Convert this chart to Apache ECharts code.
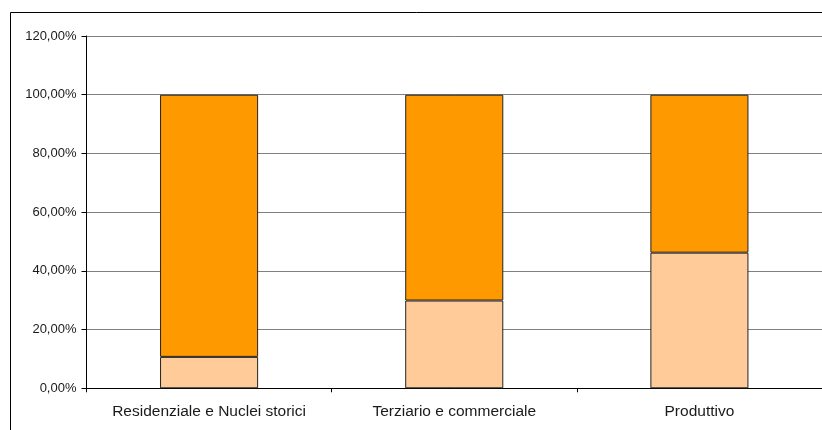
<!DOCTYPE html>
<html><head><meta charset="utf-8">
<script src="https://cdn.jsdelivr.net/npm/echarts@6/dist/echarts.min.js"></script>
<style>html,body{margin:0;padding:0;background:#fff}#c{width:822px;height:430px}</style>
</head><body><div id="c"></div>
<script>
const categories = ['Residenziale e Nuclei storici', 'Terziario e commerciale', 'Produttivo'];
const lowerShare = [10.7, 29.9, 46.2];
const upperShare = [89.3, 70.1, 53.8];
const yTicks = { min: 0, max: 120, interval: 20 };

const chart = echarts.init(document.getElementById('c'), null, { renderer: 'canvas' });
const fmt = v => v.toFixed(2).replace('.', ',') + '%';
chart.setOption({
  animation: false,
  backgroundColor: '#fff',
  textStyle: { fontFamily: 'Liberation Sans, Arial, sans-serif' },
  graphic: [{
    type: 'rect', silent: true, z: -1,
    shape: { x: 10.5, y: 12.5, width: 900, height: 500 },
    style: { fill: 'none', stroke: '#000', lineWidth: 1 }
  }],
  grid: { left: 86.5, top: 36, width: 738, height: 352.3 },
  xAxis: {
    type: 'category', data: categories,
    axisLine: { lineStyle: { color: '#000', width: 1 } },
    axisTick: { show: true, interval: 0, length: 4, lineStyle: { color: '#000' }, alignWithLabel: false },
    axisLabel: { interval: 0, hideOverlap: false, color: '#1a1a1a', fontSize: 15.5, margin: 15, fontFamily: 'Liberation Sans, Arial, sans-serif' },
    splitLine: { show: false }
  },
  yAxis: {
    type: 'value', min: yTicks.min, max: yTicks.max, interval: yTicks.interval,
    axisLine: { show: true, lineStyle: { color: '#000', width: 1 } },
    axisTick: { show: true, length: 5, lineStyle: { color: '#000' } },
    axisLabel: { color: '#1a1a1a', fontSize: 13, margin: 10, formatter: fmt, fontFamily: 'Liberation Sans, Arial, sans-serif' },
    splitLine: { show: true, lineStyle: { color: '#808080', width: 1 } }
  },
  series: [
    { type: 'bar', stack: 's', data: lowerShare, barWidth: '40%',
      itemStyle: { color: '#FFCC99', borderColor: '#222', borderWidth: 1 } },
    { type: 'bar', stack: 's', data: upperShare, barWidth: '40%',
      itemStyle: { color: '#FF9900', borderColor: '#222', borderWidth: 1 } }
  ]
});
</script></body></html>
